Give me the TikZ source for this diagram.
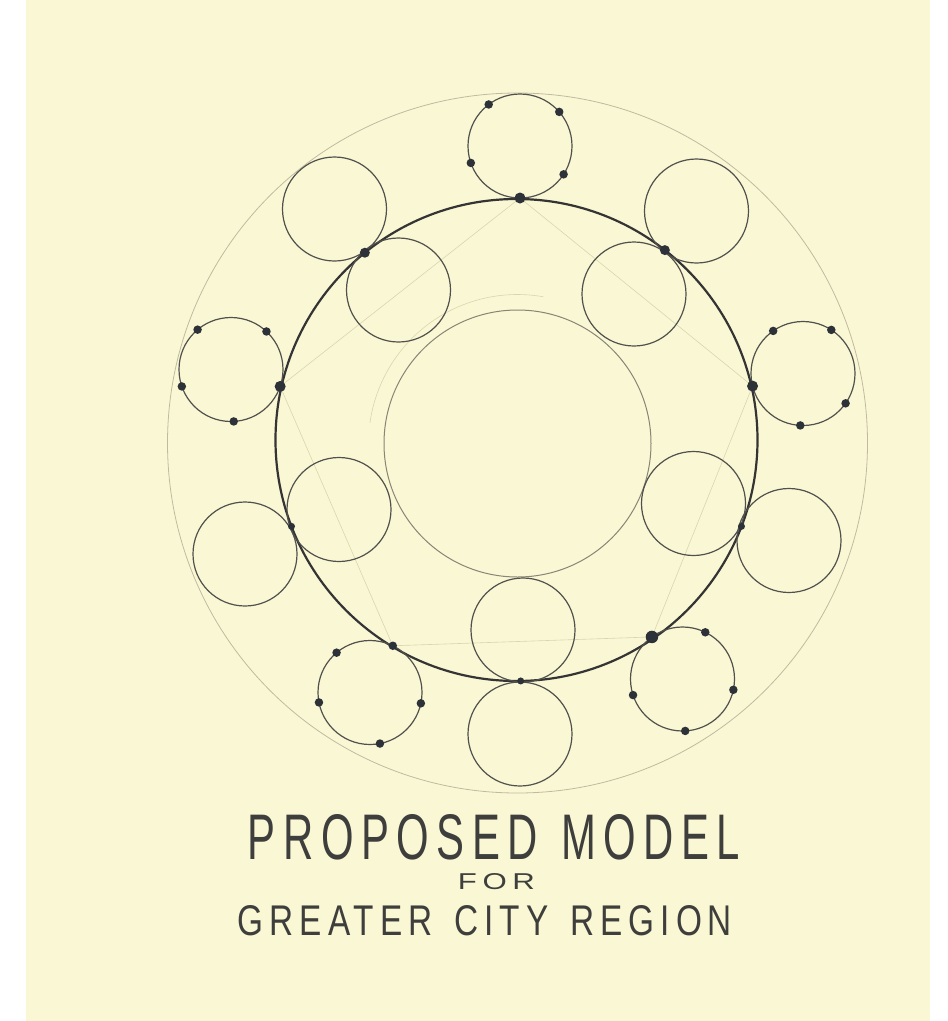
\documentclass[tikz,border=0pt]{standalone}
\usepackage{graphicx}
\usepackage{fontspec}
\usetikzlibrary{backgrounds}
\setsansfont{Liberation Sans}
\newfontfamily\handfont{Liberation Sans}[LetterSpace=18]
\definecolor{paperc}{RGB}{250,247,212}
\definecolor{graphite}{RGB}{52,52,52}
\definecolor{pencilc}{RGB}{80,80,76}
\definecolor{dotc}{RGB}{45,50,56}
\definecolor{faintc}{RGB}{192,187,160}
\definecolor{corec}{RGB}{135,133,118}
\definecolor{guidec}{RGB}{218,213,176}
\definecolor{textc}{RGB}{62,62,60}
\begin{document}
\begin{tikzpicture}[x=1pt,y=-1pt,
  ringbase/.style={circle,inner sep=0pt,outer sep=0pt},
  outerring/.style={ringbase,draw=faintc,line width=0.8pt,minimum size=700pt},
  mainring/.style={ringbase,draw=graphite,line width=2.2pt,minimum size=482pt},
  corering/.style={ringbase,draw=corec,line width=1pt,minimum size=267pt},
  town/.style={ringbase,draw=pencilc,line width=1.2pt,minimum size=104pt},
  pdot/.style={circle,fill=dotc,inner sep=0pt,outer sep=0pt,minimum size=8.5pt},
  bigdot/.style={pdot,minimum size=11pt},
  guide/.style={draw=guidec,line width=0.6pt},
  lettering/.style={inner sep=0pt,outer sep=0pt,text=textc,font=\handfont}
]
\begin{pgfonlayer}{background}
\fill[white] (0,0) rectangle (948,1021);
\fill[paperc] (26,0) rectangle (930,1021);
\end{pgfonlayer}
\useasboundingbox (0,0) rectangle (948,1021);

% large rings
\node[outerring] (outer) at (517.5,443) {};
\node[corering] (core) at (517.5,443.5) {};
\draw[guide] ([shift={(-80:149)}]core.center) arc[start angle=-80,end angle=-172,radius=149];
\node[mainring] (main) at (516.5,440) {};

% dotted towns (outside the main ring)
\node[town] (tT) at (520,146) {};
\node[town] (tL) at (231,369.5) {};
\node[town] (tR) at (803,373.5) {};
\node[town] (tBL) at (370,692.5) {};
\node[town] (tBR) at (682.5,679) {};

% plain town pairs
\node[town] (oTL) at (334.5,209) {};
\node[town] (iTL) at (398.5,290) {};
\node[town] (oTR) at (696.5,211) {};
\node[town] (iTR) at (634,294) {};
\node[town] (oLL) at (245,554) {};
\node[town] (iLL) at (339,509.5) {};
\node[town] (oRL) at (789,540.5) {};
\node[town] (iRL) at (693.5,503.5) {};
\node[town] (oB) at (520,734) {};
\node[town] (iB) at (523,630) {};

% dots on the top town
\node[bigdot] (dT) at (tT.270) {};
\node[pdot] (dT1) at (tT.127) {};
\node[pdot] (dT2) at (tT.41) {};
\node[pdot] (dT3) at (tT.199) {};
\node[pdot] (dT4) at (tT.327) {};
% left town
\node[bigdot] (dL) at (tL.341) {};
\node[pdot] (dL1) at (tL.130) {};
\node[pdot] (dL2) at (tL.47) {};
\node[pdot] (dL3) at (tL.199.5) {};
\node[pdot] (dL4) at (tL.273) {};
% right town
\node[bigdot] (dR) at (tR.194.6) {};
\node[pdot] (dR1) at (tR.125) {};
\node[pdot] (dR2) at (tR.57) {};
\node[pdot] (dR3) at (tR.325) {};
\node[pdot] (dR4) at (tR.267) {};
% bottom-left town
\node[pdot] (dBL) at (tBL.64.6) {};
\node[pdot] (dBL1) at (tBL.130) {};
\node[pdot] (dBL2) at (tBL.191.7) {};
\node[pdot] (dBL3) at (tBL.348) {};
\node[pdot] (dBL4) at (tBL.281.5) {};
% bottom-right town
\node[bigdot,minimum size=12.5pt] (dBR) at (tBR.126.4) {};
\node[pdot] (dBR1) at (tBR.64.6) {};
\node[pdot] (dBR2) at (tBR.198) {};
\node[pdot] (dBR3) at (tBR.348.7) {};
\node[pdot] (dBR4) at (tBR.273) {};
% contact dots of the pairs on the main ring
\node[bigdot,minimum size=10pt] (cTL) at (main.129.4) {};
\node[bigdot,minimum size=10pt] (cTR) at (main.52.2) {};
\node[pdot,minimum size=7pt] (cLL) at (main.201.6) {};
\node[pdot,minimum size=7pt] (cRL) at (main.339.5) {};
\node[pdot,minimum size=7pt] (cB) at (main.271.5) {};

% faint construction pentagon, behind everything
\begin{pgfonlayer}{background}
\draw[guide] (dT.center) -- (dL.center) -- (dBL.center) -- (dBR.center) -- (dR.center) -- (dT.center);
\end{pgfonlayer}

% lettering
\node[lettering] (title) at (494,837.5) {\resizebox{492pt}{45pt}{PROPOSED\hspace{0.55em}MODEL}};
\node[lettering] (for) at (496.5,882) {\resizebox{77pt}{16pt}{FOR}};
\node[lettering] (region) at (485,921) {\resizebox{494pt}{30pt}{GREATER\hspace{0.2em} CITY\hspace{0.2em} REGION}};
\end{tikzpicture}
\end{document}
